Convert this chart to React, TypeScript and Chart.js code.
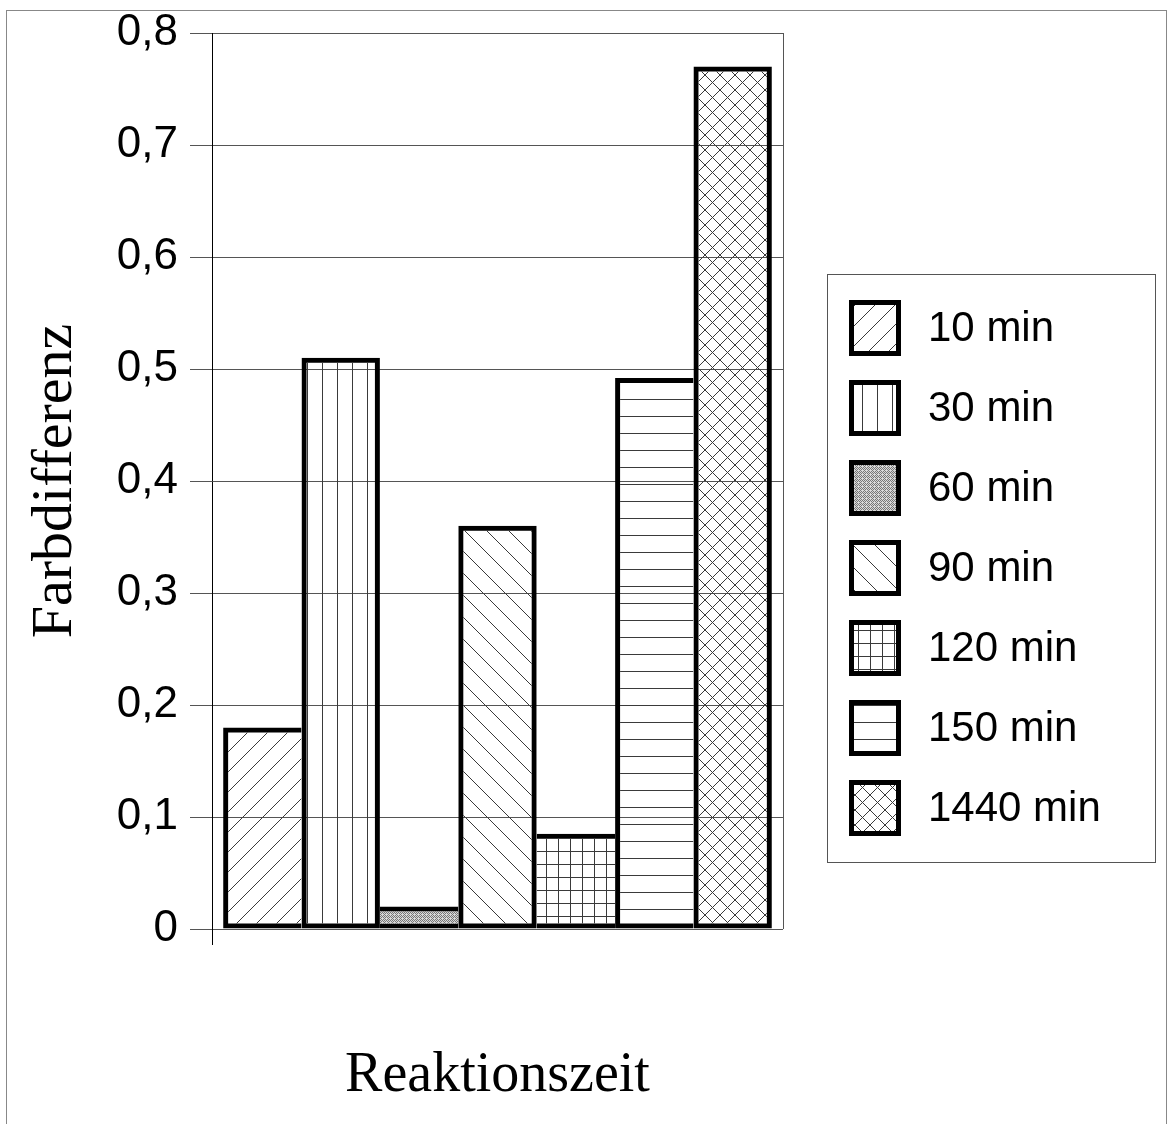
import React, { useEffect, useRef } from 'react';
import { Chart, registerables } from 'chart.js';

Chart.register(...registerables);

// ---- data ----
const categories = [''];
const seriesLabels = ['10 min', '30 min', '60 min', '90 min', '120 min', '150 min', '1440 min'];
const seriesValues = [0.18, 0.51, 0.02, 0.36, 0.085, 0.492, 0.77];
const yTickLabels = ['0', '0,1', '0,2', '0,3', '0,4', '0,5', '0,6', '0,7', '0,8'];
const yMin = 0;
const yMax = 0.8;
const yStep = 0.1;
const xTitle = 'Reaktionszeit';
const yTitle = 'Farbdifferenz';

// ---- styles ----
const patternKinds = ['diagUp', 'vertical', 'stipple', 'diagDown', 'grid', 'horizontal', 'cross'];
const LINE = '#3a3a3a';
const BORDER = 5;

function makePattern(ctxMain: CanvasRenderingContext2D, kind: string): CanvasPattern | string {
  const c = document.createElement('canvas');
  let w = 20;
  let h = 20;
  if (kind === 'diagUp') { w = 20; h = 20; }
  if (kind === 'diagDown') { w = 22; h = 22; }
  if (kind === 'vertical') { w = 15; h = 15; }
  if (kind === 'horizontal') { w = 17; h = 17; }
  if (kind === 'grid') { w = 12; h = 13; }
  if (kind === 'cross') { w = 15; h = 15; }
  if (kind === 'stipple') { w = 4; h = 4; }
  c.width = w;
  c.height = h;
  const g = c.getContext('2d') as CanvasRenderingContext2D;
  g.strokeStyle = LINE;
  g.lineWidth = 1;
  g.beginPath();
  if (kind === 'diagUp' || kind === 'cross') {
    for (let k = -1; k <= 1; k++) {
      g.moveTo(k * w, h);
      g.lineTo(k * w + w, 0);
    }
  }
  if (kind === 'diagDown' || kind === 'cross') {
    for (let k = -1; k <= 1; k++) {
      g.moveTo(k * w, 0);
      g.lineTo(k * w + w, h);
    }
  }
  if (kind === 'vertical' || kind === 'grid') {
    g.moveTo(Math.floor(w / 2) + 0.5, 0);
    g.lineTo(Math.floor(w / 2) + 0.5, h);
  }
  if (kind === 'horizontal' || kind === 'grid') {
    g.moveTo(0, Math.floor(h / 2) + 0.5);
    g.lineTo(w, Math.floor(h / 2) + 0.5);
  }
  g.stroke();
  if (kind === 'stipple') {
    g.fillStyle = '#d8d8d8';
    g.fillRect(0, 0, w, h);
    g.fillStyle = '#777';
    for (let y = 0; y < h; y++) {
      for (let x = 0; x < w; x++) {
        if ((x + y) % 2 === 0 && !(x === 2 && y === 2)) g.fillRect(x, y, 1, 1);
      }
    }
  }
  const p = ctxMain.createPattern(c, 'repeat');
  return p || '#ccc';
}

const framePlugin = {
  id: 'frame',
  beforeDraw(chart: any) {
    const ctx = chart.ctx as CanvasRenderingContext2D;
    ctx.save();
    ctx.fillStyle = '#fff';
    ctx.fillRect(0, 0, chart.width, chart.height);
    ctx.strokeStyle = '#888';
    ctx.lineWidth = 1;
    ctx.strokeRect(6.5, 10.5, 1160, 1130);
    ctx.restore();
  },
  afterDraw(chart: any) {
    const ctx = chart.ctx as CanvasRenderingContext2D;
    const a = chart.chartArea;
    ctx.save();
    ctx.strokeStyle = '#555';
    ctx.lineWidth = 1;
    ctx.beginPath();
    ctx.moveTo(Math.round(a.right) + 0.5, a.top);
    ctx.lineTo(Math.round(a.right) + 0.5, a.bottom);
    ctx.stroke();
    ctx.strokeStyle = '#000';
    ctx.beginPath();
    ctx.moveTo(Math.round(a.left) + 0.5, a.bottom);
    ctx.lineTo(Math.round(a.left) + 0.5, a.bottom + 16);
    ctx.stroke();
    ctx.restore();
  },
};

const legendPlugin = {
  id: 'customLegend',
  afterDraw(chart: any) {
    const ctx = chart.ctx as CanvasRenderingContext2D;
    ctx.save();
    ctx.strokeStyle = '#555';
    ctx.lineWidth = 1;
    ctx.strokeRect(827.5, 274.5, 328, 588);
    chart.data.datasets.forEach((ds: any, i: number) => {
      const cy = 328 + i * 80;
      const bx = 849;
      const bw = 52;
      const bh = 56;
      const by = cy - bh / 2;
      ctx.fillStyle = ds.backgroundColor;
      ctx.fillRect(bx, by, bw, bh);
      ctx.strokeStyle = '#000';
      ctx.lineWidth = 5;
      ctx.strokeRect(bx + 2.5, by + 2.5, bw - 5, bh - 5);
      ctx.fillStyle = '#000';
      ctx.font = '42px "Liberation Sans", Arial, sans-serif';
      ctx.textBaseline = 'middle';
      ctx.textAlign = 'left';
      ctx.fillText(ds.label, 928, cy + 1);
    });
    ctx.restore();
  },
};

export default function App() {
  const ref = useRef<HTMLCanvasElement | null>(null);
  useEffect(() => {
    const canvas = ref.current;
    if (!canvas) return;
    const ctx = canvas.getContext('2d') as CanvasRenderingContext2D;
    const n = seriesValues.length;
    const datasets = seriesLabels.map((label, i) => {
      const prev = i > 0 ? seriesValues[i - 1] : -1;
      const next = i < n - 1 ? seriesValues[i + 1] : -1;
      const v = seriesValues[i];
      return {
        label,
        data: [v],
        backgroundColor: makePattern(ctx, patternKinds[i]),
        borderColor: '#000',
        borderWidth: {
          top: BORDER,
          bottom: BORDER,
          left: v > prev ? BORDER : 0,
          right: v >= next ? BORDER : 0,
        },
        borderSkipped: false,
        categoryPercentage: 0.961,
        barPercentage: 1,
      };
    });
    const chart = new Chart(canvas, {
      type: 'bar',
      data: { labels: categories, datasets: datasets as any },
      plugins: [framePlugin, legendPlugin],
      options: {
        animation: false,
        responsive: false,
        devicePixelRatio: 1,
        layout: { padding: { top: 33, right: 390, left: 0, bottom: 0 } },
        plugins: { legend: { display: false }, tooltip: { enabled: false } },
        scales: {
          x: {
            type: 'category',
            grid: { display: false },
            border: { display: false },
            ticks: { display: false },
            title: {
              display: true,
              text: xTitle,
              color: '#000',
              font: { family: '"Liberation Serif", "Times New Roman", serif', size: 56 },
              padding: { top: 0, bottom: 14 },
            },
            afterFit: (s: any) => { s.height = 195; s.paddingLeft = 0; s.paddingRight = 0; },
          },
          y: {
            min: yMin,
            max: yMax,
            ticks: {
              stepSize: yStep,
              color: '#000',
              padding: 12,
              font: { family: '"Liberation Sans", Arial, sans-serif', size: 44 },
              callback: (_v: any, idx: number) => yTickLabels[idx],
            },
            grid: { color: '#555', lineWidth: 1, tickLength: 22, drawTicks: true },
            border: { display: true, color: '#000', width: 1 },
            title: {
              display: true,
              text: yTitle,
              color: '#000',
              font: { family: '"Liberation Serif", "Times New Roman", serif', size: 58 },
              padding: { top: 21, bottom: 0 },
            },
            afterFit: (s: any) => { s.width = 212; s.paddingTop = 0; s.paddingBottom = 0; },
          },
        },
      } as any,
    });
    return () => chart.destroy();
  }, []);
  return (
    <div style={{ position: 'absolute', left: 0, top: 0, width: 1173, height: 1124 }}>
      <canvas ref={ref} width={1173} height={1124} style={{ display: 'block' }} />
    </div>
  );
}
